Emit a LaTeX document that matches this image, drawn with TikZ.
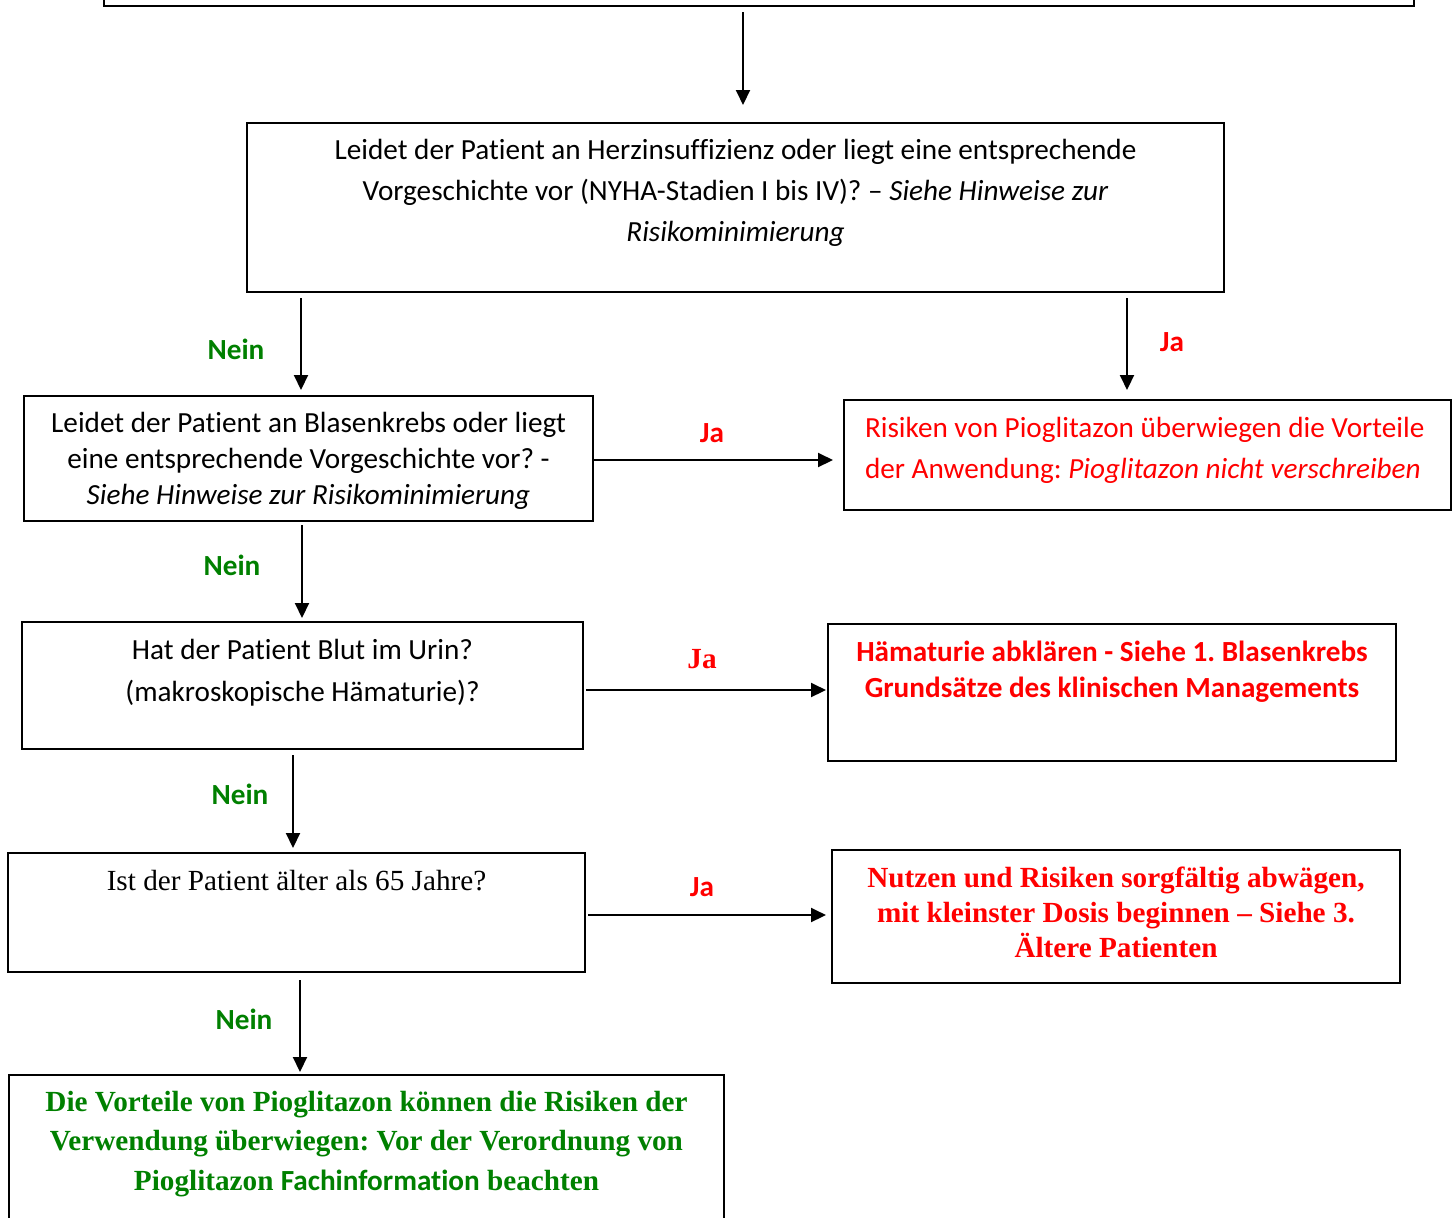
\documentclass[tikz,border=0pt]{standalone}
\usepackage{fontspec}
\setmainfont{Carlito}[Ligatures=NoCommon]
\newfontfamily\timesfont{Liberation Serif}
\frenchspacing
\usetikzlibrary{arrows.meta}
\definecolor{neingreen}{RGB}{0,128,0}
\definecolor{jared}{RGB}{255,0,0}
\tikzset{
	flowbox/.style={draw, line width=1pt, inner sep=0pt, anchor=north west},
	flowarrow/.style={line width=1pt, -{Triangle[length=7.5pt,width=7pt]}},
	neinlabel/.style={text=neingreen, font=\fontsize{14.6}{17}\selectfont\bfseries, inner sep=0pt},
	jalabel/.style={text=jared, font=\fontsize{14.6}{17}\selectfont\bfseries, inner sep=0pt}
}
\newcommand{\flowcell}[5]{\parbox[c][#2][t]{#1}{#4\rule{0pt}{#3}#5}}

\begin{document}
\begin{tikzpicture}[x=0.5pt,y=-0.5pt]
			\useasboundingbox (0,0) rectangle (1455,1217);
			\clip (0,0) rectangle (1455,1217);
			\node[flowbox, minimum width=655pt, minimum height=22.5pt] (start) at (103,-40) {};
			\node[flowbox] (herz) at (246,122) {\flowcell{488.5pt}{84.5pt}{18pt}{\centering\fontsize{14.6}{20.5}\selectfont}{Leidet der Patient an Herzinsuffizienz oder liegt eine entsprechende\\Vorgeschichte vor (NYHA-Stadien I bis IV)? – \textit{Siehe Hinweise zur}\\\textit{Risikominimierung}}};
			\node[flowbox] (blase) at (23,395) {\flowcell{284.5pt}{62.5pt}{18pt}{\centering\fontsize{14.6}{18}\selectfont}{Leidet der Patient an Blasenkrebs oder liegt\\eine entsprechende Vorgeschichte vor? -\\\textit{Siehe Hinweise zur Risikominimierung}}};
			\node[flowbox, text=jared] (risiko) at (843,399) {\flowcell{303.5pt}{55pt}{18.5pt}{\raggedright\leftskip=10.5pt\fontsize{14.6}{20.5}\selectfont}{Risiken von Pioglitazon überwiegen die Vorteile\\der Anwendung: \textit{Pioglitazon nicht verschreiben}}};
			\node[flowbox] (blut) at (21,621) {\flowcell{280.5pt}{63.5pt}{18.5pt}{\centering\fontsize{14.6}{21}\selectfont}{Hat der Patient Blut im Urin?\\(makroskopische Hämaturie)?}};
			\node[flowbox, text=jared] (haem) at (827,623) {\flowcell{284pt}{68.5pt}{18.5pt}{\centering\bfseries\fontsize{14.6}{18}\selectfont}{Hämaturie abklären - Siehe 1. Blasenkrebs\\Grundsätze des klinischen Managements}};
			\node[flowbox] (alter) at (7,852) {\flowcell{288.5pt}{59.5pt}{18.5pt}{\centering\timesfont\fontsize{14.6}{18}\selectfont}{Ist der Patient älter als 65 Jahre?}};
			\node[flowbox, text=jared] (nutzen) at (831,849) {\flowcell{284pt}{66.5pt}{18.5pt}{\centering\timesfont\bfseries\fontsize{14.6}{17.5}\selectfont}{Nutzen und Risiken sorgfältig abwägen,\\mit kleinster Dosis beginnen – Siehe 3.\\Ältere Patienten}};
			\node[flowbox, text=neingreen] (vorteil) at (8,1074) {\flowcell{357.5pt}{85pt}{18pt}{\centering\timesfont\bfseries\fontsize{14.6}{19.75}\selectfont}{Die Vorteile von Pioglitazon können die Risiken der\\Verwendung überwiegen: Vor der Verordnung von\\Pioglitazon {\normalfont\bfseries Fachinformation} beachten}};
			\draw[flowarrow, shorten <=2.5pt, shorten >=8.5pt] ([xshift=320pt]start.south west) -- ([xshift=248.5pt]herz.north west);
			\draw[flowarrow, shorten <=2.5pt, shorten >=2.5pt] ([xshift=27.5pt]herz.south west) -- ([xshift=139pt]blase.north west) node[neinlabel, midway, xshift=-32.5pt, yshift=-2.5pt] (nein1) {Nein};
			\draw[flowarrow, shorten <=2.5pt, shorten >=4.5pt] ([xshift=440.5pt]herz.south west) -- ([xshift=142pt]risiko.north west) node[jalabel, midway, xshift=22.5pt, yshift=2pt] (ja1) {Ja};
			\draw[flowarrow, shorten >=5pt] ([yshift=-32.5pt]blase.north east) -- ([yshift=-30.5pt]risiko.north west) node[jalabel, midway, xshift=-3.25pt, yshift=13.5pt] (ja2) {Ja};
			\draw[flowarrow, shorten <=1.5pt, shorten >=1.5pt] ([xshift=139.5pt]blase.south west) -- ([xshift=140.5pt]blut.north west) node[neinlabel, midway, xshift=-35pt, yshift=3.25pt] (nein2) {Nein};
			\draw[flowarrow, shorten <=1pt, shorten >=0.5pt] ([yshift=-34.5pt]blut.north east) -- ([yshift=-33.5pt]haem.north west) node[jalabel, font=\timesfont\fontsize{14.6}{17}\selectfont\bfseries, midway, xshift=-1.75pt, yshift=15.5pt] (ja3) {Ja};
			\draw[flowarrow, shorten <=2.5pt, shorten >=2pt] ([xshift=136pt]blut.south west) -- ([xshift=143pt]alter.north west) node[neinlabel, midway, xshift=-26.5pt, yshift=3.5pt] (nein3) {Nein};
			\draw[flowarrow, shorten <=1pt, shorten >=2.5pt] ([yshift=-31.5pt]alter.north east) -- ([yshift=-33pt]nutzen.north west) node[jalabel, midway, xshift=-3.25pt, yshift=14pt] (ja4) {Ja};
			\draw[flowarrow, shorten <=3.5pt, shorten >=1pt] ([xshift=146.5pt]alter.south west) -- ([xshift=146pt]vorteil.north west) node[neinlabel, midway, xshift=-28pt, yshift=2.25pt] (nein4) {Nein};
\end{tikzpicture}
\end{document}
